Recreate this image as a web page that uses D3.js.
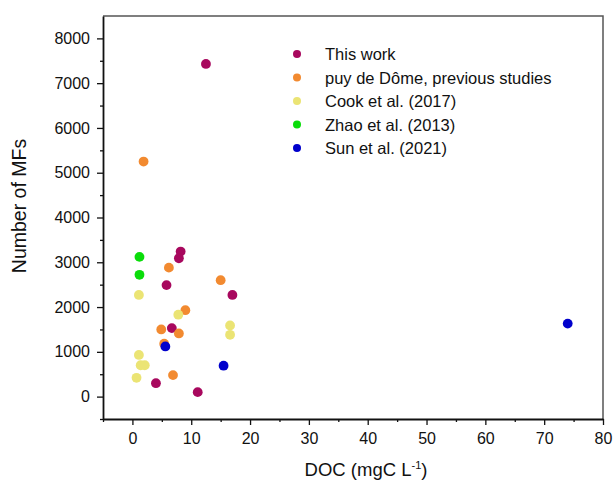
<!DOCTYPE html>
<html>
<head>
<meta charset="utf-8">
<script src="https://cdn.jsdelivr.net/npm/d3@7"></script>
<style>
  body { margin: 0; background: #fff; }
  text { font-family: "Liberation Sans", Arial, sans-serif; fill: #111; }
</style>
</head>
<body>
<div id="chart"></div>
<script>
// data: [DOC, number of MFs]
var thisWork = [[12.5, 7430], [8.2, 3240], [7.9, 3090], [5.8, 2490], [17.0, 2270],
                [6.7, 1530], [4.0, 300], [11.1, 100]];
var puyDeDome = [[1.9, 5250], [6.2, 2880], [15.0, 2600], [9.0, 1930], [4.9, 1500],
                 [7.9, 1410], [5.4, 1180], [6.9, 480]];
var cook2017 = [[1.1, 2270], [7.8, 1830], [16.6, 1590], [16.6, 1380], [1.1, 930],
                [1.4, 700], [2.1, 700], [0.7, 420]];
var zhao2013 = [[1.2, 3120], [1.2, 2720]];
var sun2021 = [[5.6, 1120], [15.5, 690], [74.0, 1630]];

var seriesNames = ["This work", "puy de Dôme, previous studies", "Cook et al. (2017)",
                   "Zhao et al. (2013)", "Sun et al. (2021)"];
var seriesColors = ["#A8085E", "#F28A30", "#EBE474", "#0ADD0A", "#0000CC"];
var xTicks = [0, 10, 20, 30, 40, 50, 60, 70, 80];
var yTicks = [0, 1000, 2000, 3000, 4000, 5000, 6000, 7000, 8000];

var allSeries = [thisWork, puyDeDome, cook2017, zhao2013, sun2021];

var w = 615, h = 483;
var mLeft = 103, mRight = 603, mTop = 16, mBottom = 419;

var svg = d3.select("#chart").append("svg")
    .attr("width", w)
    .attr("height", h);

var x = d3.scaleLinear().domain([-5, 80]).range([mLeft, mRight]);
var y = d3.scaleLinear().domain([-500, 8500]).range([mBottom, mTop]);

// frame: top and right in grey
svg.append("path")
    .attr("d", "M" + mLeft + "," + mTop + "H" + mRight + "V" + mBottom)
    .attr("fill", "none")
    .attr("stroke", "#555")
    .attr("stroke-width", 1.5);

// minor ticks
svg.append("g")
    .attr("transform", "translate(0," + mBottom + ")")
    .call(d3.axisBottom(x).tickValues(d3.range(-5, 80, 10)).tickSize(3).tickFormat(""))
    .call(function(g) { g.select(".domain").remove(); })
    .selectAll("line").attr("stroke", "#111").attr("stroke-width", 1.3);
svg.append("g")
    .attr("transform", "translate(" + mLeft + ",0)")
    .call(d3.axisLeft(y).tickValues(d3.range(-500, 8500, 1000)).tickSize(3).tickFormat(""))
    .call(function(g) { g.select(".domain").remove(); })
    .selectAll("line").attr("stroke", "#111").attr("stroke-width", 1.3);

// major axes
var xAxis = svg.append("g")
    .attr("transform", "translate(0," + mBottom + ")")
    .call(d3.axisBottom(x).tickValues(xTicks).tickFormat(d3.format("d"))
      .tickSize(6).tickSizeOuter(0).tickPadding(8));
var yAxis = svg.append("g")
    .attr("transform", "translate(" + mLeft + ",0)")
    .call(d3.axisLeft(y).tickValues(yTicks).tickFormat(d3.format("d"))
      .tickSize(6).tickSizeOuter(0).tickPadding(7));

[xAxis, yAxis].forEach(function(g) {
  g.select(".domain").attr("stroke", "#111").attr("stroke-width", 1.8);
  g.selectAll(".tick line").attr("stroke", "#111").attr("stroke-width", 1.3);
  g.selectAll(".tick text")
      .attr("font-family", "Liberation Sans, Arial, sans-serif")
      .attr("font-size", "16px")
      .attr("fill", "#111");
});

// points
allSeries.forEach(function(data, i) {
  svg.append("g").selectAll("circle")
      .data(data)
      .enter()
      .append("circle")
      .attr("cx", function(d) { return x(d[0]); })
      .attr("cy", function(d) { return y(d[1]); })
      .attr("r", 4.9)
      .attr("fill", seriesColors[i]);
});

// legend
var legend = svg.append("g").attr("transform", "translate(297,54)");
seriesNames.forEach(function(name, i) {
  legend.append("circle")
      .attr("cx", 0)
      .attr("cy", i * 23.5)
      .attr("r", 4)
      .attr("fill", seriesColors[i]);
  legend.append("text")
      .attr("x", 28)
      .attr("y", i * 23.5 + 6)
      .attr("font-size", "16.5px")
      .text(name);
});

// axis titles
var xt = svg.append("text")
    .attr("x", 366)
    .attr("y", 476)
    .attr("text-anchor", "middle")
    .attr("font-size", "18.5px");
xt.append("tspan").text("DOC (mgC L");
xt.append("tspan").attr("dy", -7).attr("font-size", "11px").text("-1");
xt.append("tspan").attr("dy", 7).text(")");

svg.append("text")
    .attr("transform", "translate(26,206) rotate(-90)")
    .attr("text-anchor", "middle")
    .attr("font-size", "19.5px")
    .text("Number of MFs");
</script>
</body>
</html>
